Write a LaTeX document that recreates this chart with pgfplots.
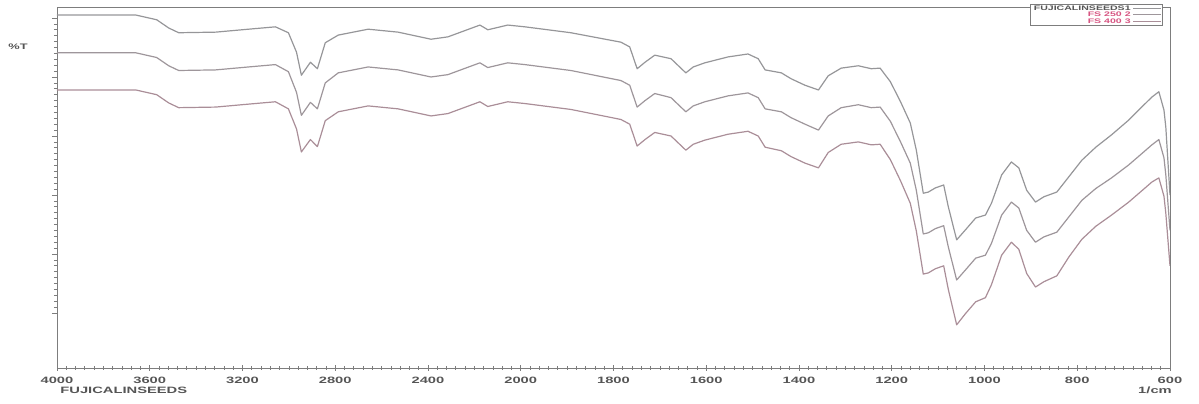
\documentclass[border=0pt]{standalone}
\usepackage{fontspec}
\setmainfont{Liberation Sans}[FakeStretch=1.6]
\usepackage{pgfplots}
\usepackage{pgfplotstable}
\pgfplotsset{compat=1.18}
\definecolor{axgray}{RGB}{125,125,125}
\definecolor{txtgray}{RGB}{85,85,85}
\definecolor{cA}{RGB}{150,150,153}
\definecolor{cB}{RGB}{158,150,155}
\definecolor{cC}{RGB}{170,142,152}
\definecolor{legpink}{RGB}{215,85,130}

\pgfplotstableread{
w T1 T2 T3
4000 60.5 54.1 47.8
3660 60.5 54.1 47.8
3570 59.7 53.3 47.0
3518 58.3 51.9 45.6
3475 57.5 51.1 44.8
3316 57.6 51.2 44.9
3174 58.1 51.7 45.4
3058 58.5 52.1 45.8
3002 57.5 50.9 44.6
2967 54.2 47.4 41.2
2946 50.3 43.5 37.3
2907 52.5 45.7 39.4
2877 51.4 44.6 38.2
2843 55.8 49.0 42.6
2787 57.1 50.7 44.1
2658 58.1 51.7 45.1
2529 57.6 51.2 44.6
2387 56.4 50.0 43.4
2314 56.8 50.4 43.8
2176 58.8 52.4 45.8
2142 58.0 51.6 45.0
2056 58.8 52.4 45.8
1991 58.5 52.1 45.5
1892 57.5 51.1 44.5
1784 55.9 49.4 42.8
1765 55.1 48.6 42.0
1749 51.4 44.9 38.3
1732 52.5 46.0 39.4
1711 53.7 47.2 40.6
1676 53.1 46.5 40.0
1644 50.7 44.1 37.6
1628 51.7 45.1 38.6
1603 52.4 45.8 39.3
1553 53.4 46.8 40.3
1510 53.9 47.3 40.8
1488 53.1 46.5 40.0
1473 51.2 44.6 38.1
1438 50.7 44.1 37.5
1417 49.7 43.1 36.5
1387 48.6 42.0 35.4
1358 47.8 41.0 34.6
1337 50.2 43.4 37.2
1309 51.5 44.8 38.6
1272 51.9 45.3 39.0
1244 51.4 44.8 38.5
1225 51.5 44.9 38.6
1203 49.2 42.5 36.0
1181 45.8 39.0 32.4
1160 42.2 35.4 28.6
1147 37.6 30.8 23.9
1132 30.3 23.4 16.6
1121 30.5 23.6 16.8
1106 31.2 24.3 17.5
1088 31.7 24.8 18.0
1078 28.0 21.2 14.0
1060 22.4 15.6 8.0
1041 24.1 17.3 9.9
1019 26.1 19.3 11.9
998 26.6 19.8 12.6
985 28.6 21.8 14.8
963 33.4 26.6 19.8
942 35.6 28.8 22.0
926 34.6 27.8 20.8
909 30.8 24.0 16.7
890 28.8 22.0 14.4
872 29.7 22.9 15.3
844 30.5 23.7 16.3
818 33.1 26.3 19.5
790 35.9 29.1 22.5
760 38.1 31.1 24.7
726 40.2 32.9 26.6
689 42.7 35.1 28.8
661 44.9 37.0 30.7
639 46.6 38.5 32.2
624 47.5 39.4 32.9
613 44.4 36.3 29.8
609 41.5 33.4 26.9
600 30.0 24.0 18.0
}\spectra

\begin{document}
\begin{tikzpicture}
\begin{axis}[
  at={(28.5pt,17.5pt)}, anchor=south west,
  scale only axis, width=556.5pt, height=180.5pt,
  xmin=600, xmax=3000, x dir=reverse,
  ymin=0.68, ymax=61.86,
  x filter/.expression={min(x,1000+0.5*x)},
  xtick={600,800,1000,1200,1400,1600,1800,2000,2200,2400,2600,2800,3000},
  xticklabels={600,800,1000,1200,1400,1600,1800,2000,2400,2800,3200,3600,4000},
  minor x tick num=9,
  ytick={10,20,30,40,50,60}, minor y tick num=9,
  yticklabels={},
  xtick pos=lower, ytick pos=left,
  xtick align=center, ytick align=outside,
  major tick length=2.6pt, minor tick length=1.6pt,
  tick style={axgray, line width=0.35pt},
  axis line style={axgray, line width=0.45pt},
  /pgf/number format/assume math mode=true,
  xticklabel style={font=\fontsize{4.6}{5}\selectfont\bfseries, text=txtgray, inner sep=0pt, anchor=north, yshift=-3pt},
  legend style={at={(1,1)}, anchor=north east, xshift=-3.5pt, yshift=1.5pt,
    draw=axgray, line width=0.35pt, fill=white, inner sep=0.6pt, row sep=0.3pt,
    font=\fontsize{3.3}{3.5}\selectfont\bfseries,
    nodes={inner xsep=1pt, inner ysep=0pt, text height=2.5pt, text depth=0.4pt}},
  legend cell align=right, legend plot pos=right,
  legend image code/.code={\draw[#1, line width=0.4pt] (0pt,0pt) -- (14pt,0pt);},
]
\addplot[cA, line width=0.6pt, line join=round] table[x=w, y=T1]{\spectra};
\addlegendentry[text=txtgray]{FUJICALINSEEDS1}
\addplot[cB, line width=0.6pt, line join=round] table[x=w, y=T2]{\spectra};
\addlegendentry[text=legpink]{FS 250 2}
\addplot[cC, line width=0.6pt, line join=round] table[x=w, y=T3]{\spectra};
\addlegendentry[text=legpink]{FS 400 3}
\end{axis}
\node[anchor=west, font=\fontsize{4.6}{5}\selectfont\bfseries, text=txtgray, inner sep=0pt] at (30pt,6.5pt) {FUJICALINSEEDS};
\node[font=\fontsize{4.6}{5}\selectfont\bfseries, text=txtgray, inner sep=0pt] at (577.5pt,6.5pt) {1/cm};
\node[font=\fontsize{4}{4.5}\selectfont\bfseries, text=txtgray, inner sep=0pt] at (9pt,178pt) {\%T};
\pgfresetboundingbox
\path[use as bounding box] (0,0) rectangle (599.5pt,201.5pt);
\end{tikzpicture}
\end{document}
